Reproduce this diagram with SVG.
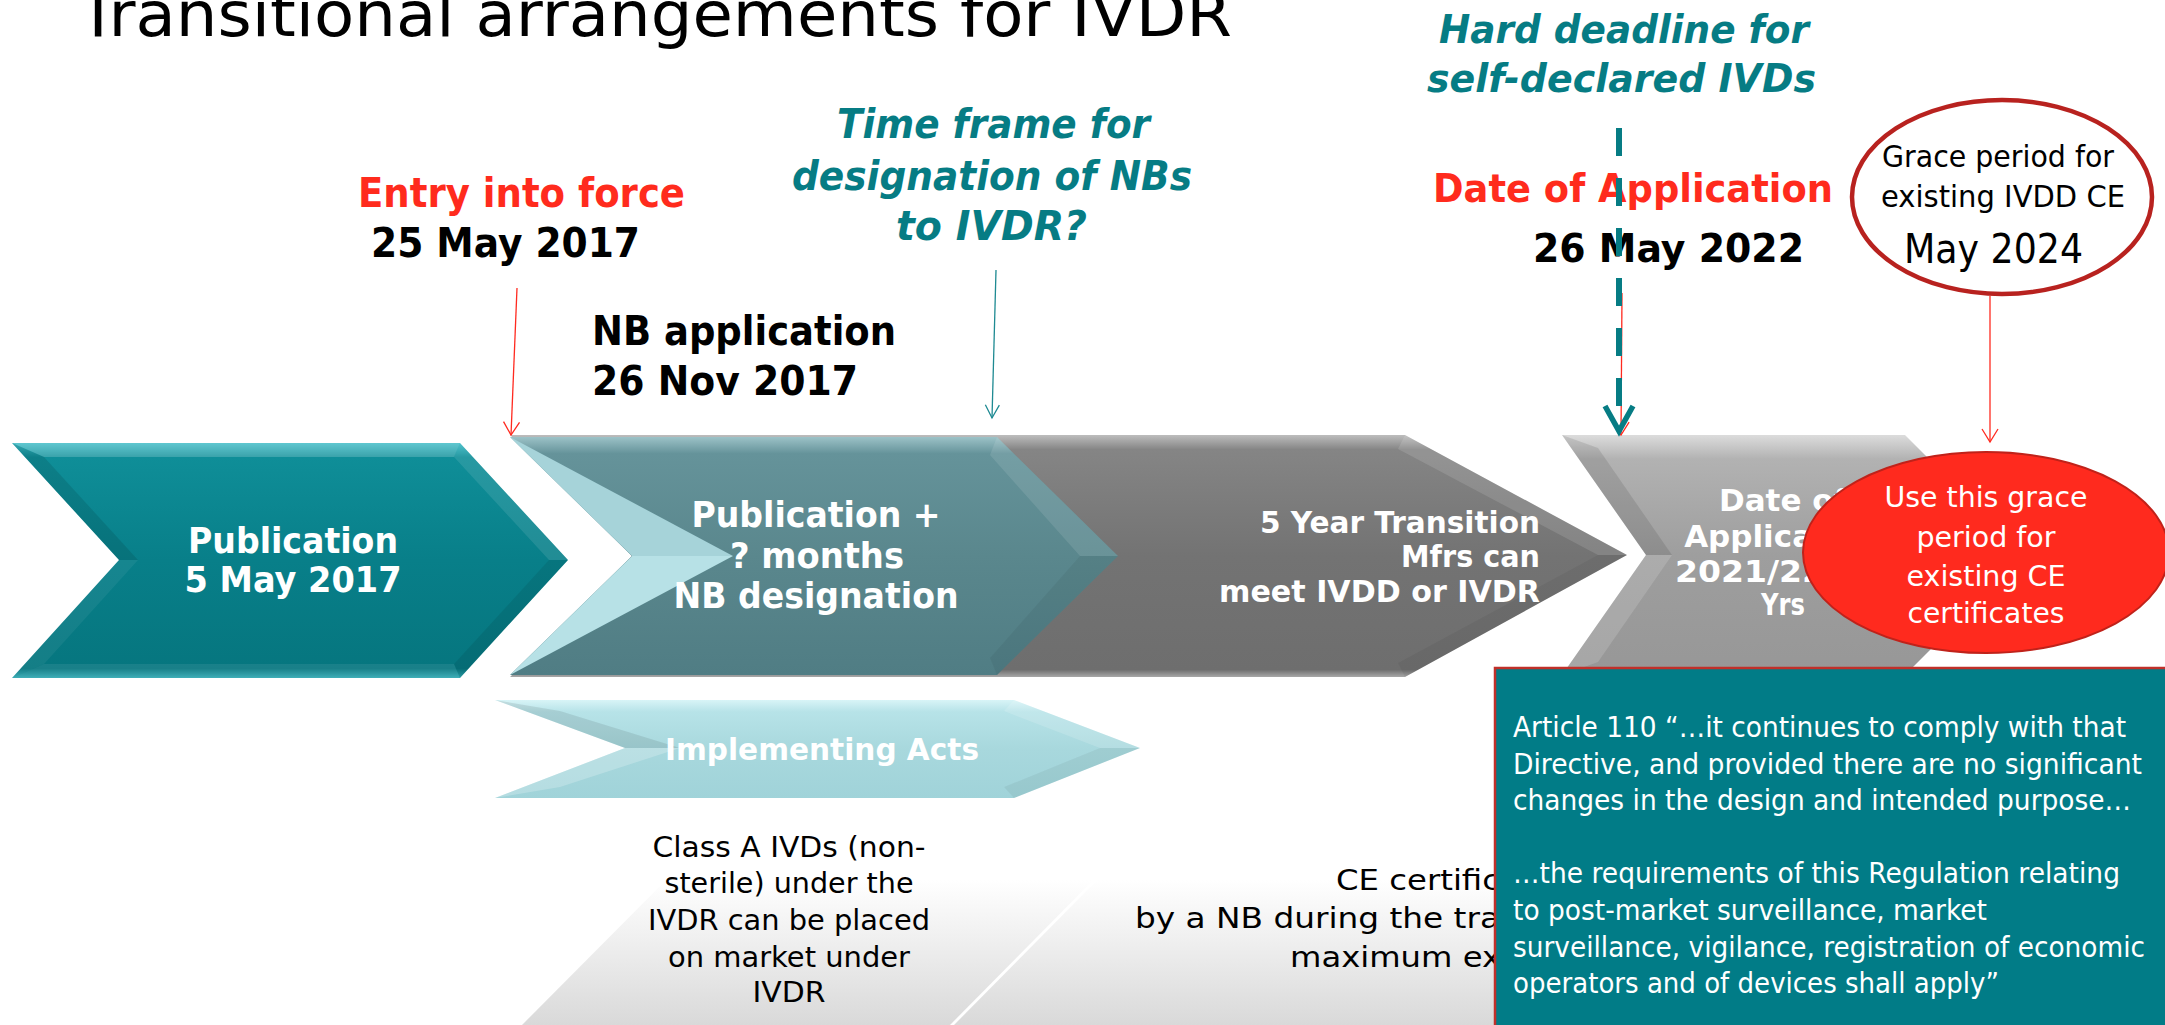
<svg xmlns="http://www.w3.org/2000/svg" width="2165" height="1025" viewBox="0 0 2165 1025">
<defs>
<style>
text{font-family:'DejaVu Sans','Noto Sans',Verdana,sans-serif}
.b{font-weight:bold}
.i{font-style:italic}
.red{fill:#FF2B1D}
.teal{fill:#067C84}
.blk{fill:#000}
.wht{fill:#fff}
.mid{text-anchor:middle}
.end{text-anchor:end}
.thinR{stroke:#FF2A1F;stroke-width:1.3;fill:none}
.thinT{stroke:#1E8A92;stroke-width:1.3;fill:none}
</style>
<linearGradient id="gTeal1" x1="0" y1="0" x2="0" y2="1">
<stop offset="0" stop-color="#3DBBC6"/><stop offset="0.06" stop-color="#0F8E98"/><stop offset="0.5" stop-color="#087F89"/><stop offset="0.96" stop-color="#06767F"/><stop offset="1" stop-color="#2FA8B2"/>
</linearGradient>
<linearGradient id="gBody2" x1="0" y1="0" x2="0" y2="1">
<stop offset="0" stop-color="#9CC2C7"/><stop offset="0.07" stop-color="#65939A"/><stop offset="0.5" stop-color="#5A878D"/><stop offset="1" stop-color="#507D84"/>
</linearGradient>
<linearGradient id="gGray3" x1="0" y1="0" x2="0" y2="1">
<stop offset="0" stop-color="#BDBDBD"/><stop offset="0.06" stop-color="#858585"/><stop offset="0.5" stop-color="#737373"/><stop offset="0.97" stop-color="#6E6E6E"/><stop offset="1" stop-color="#A8A8A8"/>
</linearGradient>
<linearGradient id="gGray4" x1="0" y1="0" x2="0" y2="1">
<stop offset="0" stop-color="#DCDCDC"/><stop offset="0.1" stop-color="#B2B2B2"/><stop offset="0.5" stop-color="#9E9E9E"/><stop offset="1" stop-color="#979797"/>
</linearGradient>
<linearGradient id="gImpl" x1="0" y1="0" x2="0" y2="1">
<stop offset="0" stop-color="#D8F4F7"/><stop offset="0.12" stop-color="#B7E3E8"/><stop offset="0.5" stop-color="#A8D8DD"/><stop offset="1" stop-color="#A0D3D9"/>
</linearGradient>
<linearGradient id="gFloor" gradientUnits="userSpaceOnUse" x1="0" y1="880" x2="0" y2="1025">
<stop offset="0" stop-color="#FFFFFF"/><stop offset="1" stop-color="#D9D9D9"/>
</linearGradient>
<marker id="ahR" viewBox="-15 -10 17 20" markerWidth="17" markerHeight="20" refX="0" refY="0" orient="auto" markerUnits="userSpaceOnUse">
<path d="M-13,-8 L0,0 L-13,8" fill="none" stroke="#FF2A1F" stroke-width="1.3"/>
</marker>
<marker id="ahT" viewBox="-15 -10 17 20" markerWidth="17" markerHeight="20" refX="0" refY="0" orient="auto" markerUnits="userSpaceOnUse">
<path d="M-13,-7 L0,0 L-13,7" fill="none" stroke="#1E8A92" stroke-width="1.3"/>
</marker>
</defs>

<rect width="2165" height="1025" fill="#fff"/>

<g id="floor">
<polygon points="686,860 1113,860 950,1025 522,1025" fill="url(#gFloor)"/>
<polygon points="1117,860 2165,860 2165,1025 954,1025" fill="url(#gFloor)"/>
</g>

<g id="note-class-a">
<text class="mid blk" x="789" y="857" font-size="28" textLength="273" lengthAdjust="spacingAndGlyphs">Class A IVDs (non-</text>
<text class="mid blk" x="789" y="893" font-size="28" textLength="249" lengthAdjust="spacingAndGlyphs">sterile) under the</text>
<text class="mid blk" x="789" y="930" font-size="28" textLength="282" lengthAdjust="spacingAndGlyphs">IVDR can be placed</text>
<text class="mid blk" x="789" y="967" font-size="28" textLength="242" lengthAdjust="spacingAndGlyphs">on market under</text>
<text class="mid blk" x="789" y="1002" font-size="28" textLength="73" lengthAdjust="spacingAndGlyphs">IVDR</text>
</g>

<g id="note-ce-cert">
<text class="blk" x="1336" y="890" font-size="28" textLength="164" lengthAdjust="spacingAndGlyphs">CE certific</text>
<text class="blk" x="1135" y="928" font-size="28" textLength="365" lengthAdjust="spacingAndGlyphs">by a NB during the tra</text>
<text class="blk" x="1290" y="967" font-size="28" textLength="211" lengthAdjust="spacingAndGlyphs">maximum ex</text>
</g>

<g id="title">
<text class="blk" x="78" y="36" font-size="62" textLength="1154" lengthAdjust="spacingAndGlyphs">Transitional arrangements for IVDR</text>
</g>

<g id="chev-transition">
<polygon points="510,435 1405,435 1627,555 1405,677 510,677 632,556" fill="url(#gGray3)"/>
<polygon points="1405,435 1627,555 1598,555 1398,449" fill="#fff" fill-opacity="0.12"/>
<polygon points="1627,555 1405,677 1398,663 1598,555" fill="#000" fill-opacity="0.05"/>
<text class="b wht end" x="1540" y="533" font-size="31" textLength="280" lengthAdjust="spacingAndGlyphs">5 Year Transition</text>
<text class="b wht end" x="1540" y="567" font-size="31" textLength="139" lengthAdjust="spacingAndGlyphs">Mfrs can</text>
<text class="b wht end" x="1540" y="602" font-size="31" textLength="321" lengthAdjust="spacingAndGlyphs">meet IVDD or IVDR</text>
</g>

<g id="chev-nb-designation">
<polygon points="510,437 997,437 1118,556 997,675 510,675 632,556" fill="url(#gBody2)"/>
<polygon points="997,437 1118,556 1080,556 990,455" fill="#fff" fill-opacity="0.1"/>
<polygon points="1118,556 997,675 990,658 1080,556" fill="#000" fill-opacity="0.05"/>
<polygon points="510,437 733,556 632,556" fill="#A6D3D9"/>
<polygon points="632,556 733,556 510,675" fill="#B7E1E6"/>
<text class="b wht mid" x="816" y="527" font-size="35" textLength="249" lengthAdjust="spacingAndGlyphs">Publication +</text>
<text class="b wht mid" x="817" y="568" font-size="35" textLength="174" lengthAdjust="spacingAndGlyphs">? months</text>
<text class="b wht mid" x="816" y="608" font-size="35" textLength="285" lengthAdjust="spacingAndGlyphs">NB designation</text>
</g>

<g id="chev-publication">
<polygon points="12,443 460,443 568,560 460,678 12,678 119,560" fill="url(#gTeal1)"/>
<polygon points="12,443 460,443 454,457 44,457" fill="#fff" fill-opacity="0.18"/>
<polygon points="460,443 568,560 549,560 454,457" fill="#fff" fill-opacity="0.1"/>
<polygon points="568,560 460,678 454,664 549,560" fill="#000" fill-opacity="0.08"/>
<polygon points="460,678 12,678 44,664 454,664" fill="#fff" fill-opacity="0.08"/>
<polygon points="12,678 119,560 138,560 44,664" fill="#fff" fill-opacity="0.06"/>
<polygon points="119,560 12,443 44,457 138,560" fill="#000" fill-opacity="0.1"/>
<text class="b wht mid" x="293" y="553" font-size="36" textLength="210" lengthAdjust="spacingAndGlyphs">Publication</text>
<text class="b wht mid" x="293" y="592" font-size="36" textLength="217" lengthAdjust="spacingAndGlyphs">5 May 2017</text>
</g>

<g id="chev-implementing">
<polygon points="495,700 1014,700 1140,748 1014,798 495,798 625,748" fill="url(#gImpl)"/>
<polygon points="495,700 625,748 680,748 560,711" fill="#000" fill-opacity="0.09"/>
<polygon points="625,748 495,798 560,787 680,748" fill="#fff" fill-opacity="0.22"/>
<polygon points="1014,700 1140,748 1100,748 1004,711" fill="#fff" fill-opacity="0.15"/>
<polygon points="1140,748 1014,798 1004,787 1100,748" fill="#000" fill-opacity="0.05"/>
<text class="b wht mid" x="822" y="760" font-size="31" textLength="314" lengthAdjust="spacingAndGlyphs">Implementing Acts</text>
</g>

<g id="chev-doa">
<polygon points="1562,435 1905,435 2025,555 1905,675 1562,675 1646,555" fill="url(#gGray4)"/>
<polygon points="1562,435 1646,555 1672,555 1598,448" fill="#000" fill-opacity="0.1"/>
<polygon points="1646,555 1562,675 1598,662 1672,555" fill="#fff" fill-opacity="0.15"/>
<text class="b wht mid" x="1783" y="511" font-size="31">Date of</text>
<text class="b wht mid" x="1783" y="547" font-size="31">Application</text>
<text class="b wht" x="1675" y="582" font-size="31" textLength="150" lengthAdjust="spacingAndGlyphs">2021/22</text>
<text class="b wht mid" x="1783" y="615" font-size="31" textLength="44" lengthAdjust="spacingAndGlyphs">Yrs</text>
</g>

<g id="label-entry">
<text class="b red" x="358" y="207" font-size="40" textLength="327" lengthAdjust="spacingAndGlyphs">Entry into force</text>
<text class="b blk" x="371" y="257" font-size="40" textLength="269" lengthAdjust="spacingAndGlyphs">25 May 2017</text>
</g>

<g id="label-timeframe">
<text class="b i teal" x="837" y="138" font-size="40" textLength="313" lengthAdjust="spacingAndGlyphs">Time frame for</text>
<text class="b i teal" x="792" y="190" font-size="40" textLength="400" lengthAdjust="spacingAndGlyphs">designation of NBs</text>
<text class="b i teal" x="896" y="240" font-size="40" textLength="191" lengthAdjust="spacingAndGlyphs">to IVDR?</text>
</g>

<g id="label-nb-application">
<text class="b blk" x="592" y="345" font-size="40" textLength="304" lengthAdjust="spacingAndGlyphs">NB application</text>
<text class="b blk" x="592" y="395" font-size="40" textLength="266" lengthAdjust="spacingAndGlyphs">26 Nov 2017</text>
</g>

<g id="label-hard-deadline">
<text class="b i teal" x="1439" y="43" font-size="39" textLength="370" lengthAdjust="spacingAndGlyphs">Hard deadline for</text>
<text class="b i teal" x="1427" y="92" font-size="39" textLength="389" lengthAdjust="spacingAndGlyphs">self-declared IVDs</text>
</g>

<g id="label-doa">
<text class="b red" x="1433" y="202" font-size="39" textLength="400" lengthAdjust="spacingAndGlyphs">Date of Application</text>
<text class="b blk" x="1533" y="262" font-size="39" textLength="271" lengthAdjust="spacingAndGlyphs">26 May 2022</text>
</g>

<g id="grace-circle">
<ellipse cx="2002" cy="197" rx="150" ry="97" fill="#fff" stroke="#B8221F" stroke-width="4.5"/>
<text class="blk" x="1882" y="167" font-size="30" textLength="232" lengthAdjust="spacingAndGlyphs">Grace period for</text>
<text class="blk" x="1881" y="207" font-size="30" textLength="244" lengthAdjust="spacingAndGlyphs">existing IVDD CE</text>
<text class="blk" x="1904" y="263" font-size="41" textLength="179" lengthAdjust="spacingAndGlyphs">May 2024</text>
</g>

<g id="grace-use">
<ellipse cx="1986" cy="552.5" rx="183" ry="100.5" fill="#FF2A1E" stroke="#C0221A" stroke-width="2"/>
<text class="wht mid" x="1986" y="507" font-size="28" textLength="203" lengthAdjust="spacingAndGlyphs">Use this grace</text>
<text class="wht mid" x="1986" y="547" font-size="28" textLength="139" lengthAdjust="spacingAndGlyphs">period for</text>
<text class="wht mid" x="1986" y="586" font-size="28" textLength="159" lengthAdjust="spacingAndGlyphs">existing CE</text>
<text class="wht mid" x="1986" y="623" font-size="28" textLength="157" lengthAdjust="spacingAndGlyphs">certificates</text>
</g>

<g id="article-box">
<rect x="1494" y="667" width="672" height="360" fill="#017C87"/>
<path d="M1495,1026 V668 H2166" fill="none" stroke="#C0302A" stroke-width="2.5"/>
<text class="wht" x="1513" y="737" font-size="28" textLength="613" lengthAdjust="spacingAndGlyphs">Article 110 “…it continues to comply with that</text>
<text class="wht" x="1513" y="774" font-size="28" textLength="629" lengthAdjust="spacingAndGlyphs">Directive, and provided there are no significant</text>
<text class="wht" x="1513" y="810" font-size="28" textLength="618" lengthAdjust="spacingAndGlyphs">changes in the design and intended purpose…</text>
<text class="wht" x="1513" y="883" font-size="28" textLength="607" lengthAdjust="spacingAndGlyphs">…the requirements of this Regulation relating</text>
<text class="wht" x="1513" y="920" font-size="28" textLength="474" lengthAdjust="spacingAndGlyphs">to post-market surveillance, market</text>
<text class="wht" x="1513" y="957" font-size="28" textLength="632" lengthAdjust="spacingAndGlyphs">surveillance, vigilance, registration of economic</text>
<text class="wht" x="1513" y="993" font-size="28" textLength="486" lengthAdjust="spacingAndGlyphs">operators and of devices shall apply”</text>
</g>

<g id="connectors">
<path class="thinR" d="M517,288 L511,435" marker-end="url(#ahR)"/>
<path class="thinT" d="M996,270 L992,418" marker-end="url(#ahT)"/>
<path class="thinR" d="M1622,293 L1621,435" marker-end="url(#ahR)"/>
<path class="thinR" d="M1990,296 L1990,442" marker-end="url(#ahR)"/>
<path d="M1619,128 L1619,408" fill="none" stroke="#067C84" stroke-width="6" stroke-dasharray="28 22"/>
<polyline points="1605,406 1619,431 1633,406" fill="none" stroke="#067C84" stroke-width="5.5"/>
</g>
</svg>
